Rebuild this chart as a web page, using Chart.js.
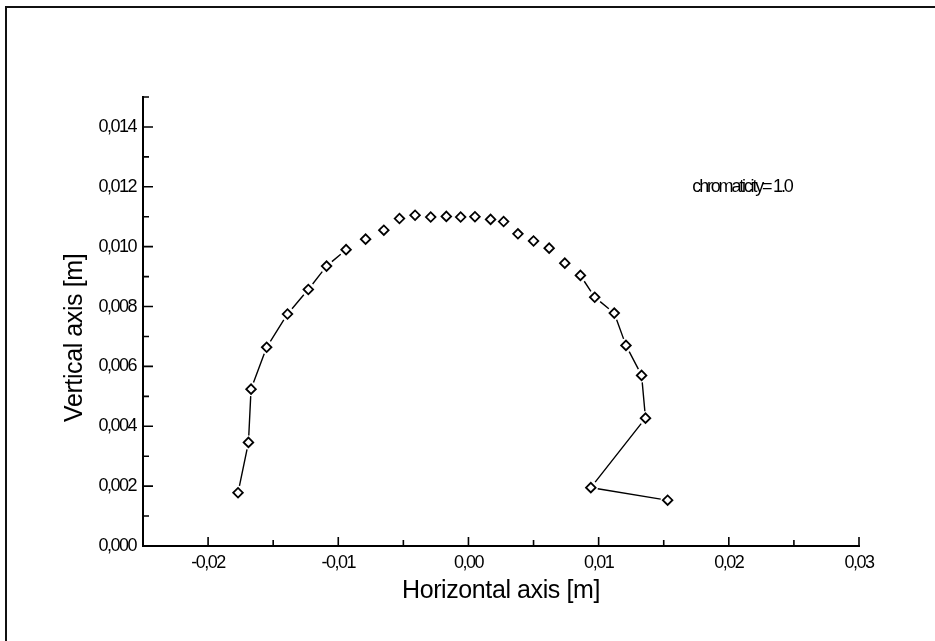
<!DOCTYPE html>
<html>
<head>
<meta charset="utf-8">
<script src="https://cdn.jsdelivr.net/npm/chart.js@4.4.1/dist/chart.umd.min.js"></script>
<style>
    html, body { margin: 0; padding: 0; background: #fff; }
    #wrap { position: relative; width: 935px; height: 641px; }
</style>
</head>
<body>
<div id="wrap"><canvas id="orbitChart"></canvas></div>
<script>
// beam centre positions, in metres
const horizontalPos = [
    -0.0177, -0.0169, -0.0167, -0.0155, -0.0139, -0.0123, -0.0109, -0.0094,
    -0.0079, -0.0065, -0.0053, -0.0041, -0.0029, -0.0017, -0.0006, 0.0005,
    0.0017, 0.0027, 0.0038, 0.0050, 0.0062, 0.0074, 0.0086, 0.0097,
    0.0112, 0.0121, 0.0133, 0.0136, 0.0094, 0.0153
];
const verticalPos = [
    0.00178, 0.00346, 0.00524, 0.00664, 0.00775, 0.00857, 0.00935, 0.00990,
    0.01025, 0.01055, 0.01094, 0.01105, 0.01099, 0.01101, 0.01099, 0.01100,
    0.01091, 0.01084, 0.01043, 0.01019, 0.00995, 0.00945, 0.00904, 0.00831,
    0.00778, 0.00670, 0.00570, 0.00427, 0.00195, 0.00153
];

const xTickValues = [-0.02, -0.01, 0.00, 0.01, 0.02, 0.03];
const xTickLabels = ['-0,02', '-0,01', '0,00', '0,01', '0,02', '0,03'];
const yTickValues = [0.000, 0.002, 0.004, 0.006, 0.008, 0.010, 0.012, 0.014];
const yTickLabels = ['0,000', '0,002', '0,004', '0,006', '0,008', '0,010', '0,012', '0,014'];

const noteText = 'chromaticity= 1.0';
const notePos = { x: 0.0172, y: 0.0120 };

Chart.defaults.color = '#000';
Chart.defaults.font.family = "'Liberation Sans', Arial, sans-serif";

function labelFor(values, labels) {
    return (v) => {
        const i = values.findIndex(t => Math.abs(t - v) < 1e-9);
        return i >= 0 ? labels[i] : '';
    };
}

// frame, gapped connecting line, inward ticks and the text note
const orbitDecor = {
    id: 'orbitDecor',
    beforeDraw(chart) {
        const ctx = chart.ctx;
        ctx.save();
        ctx.strokeStyle = '#111';
        ctx.lineWidth = 2;
        ctx.beginPath();
        ctx.moveTo(6, chart.height);
        ctx.lineTo(6, 7);
        ctx.lineTo(chart.width, 7);
        ctx.stroke();
        ctx.restore();
        // axis titles are drawn a little tight
        ctx.letterSpacing = '-0.4px';
    },
    beforeDatasetsDraw(chart) {
        const ctx = chart.ctx;
        const pts = chart.getDatasetMeta(0).data;
        const gap = 7;
        ctx.save();
        ctx.strokeStyle = '#000';
        ctx.lineWidth = 1.4;
        ctx.beginPath();
        for (let i = 1; i < pts.length; i++) {
            const a = pts[i - 1], b = pts[i];
            const dx = b.x - a.x, dy = b.y - a.y;
            const d = Math.hypot(dx, dy);
            if (d < 23) continue;
            const ux = dx / d, uy = dy / d;
            ctx.moveTo(a.x + ux * gap, a.y + uy * gap);
            ctx.lineTo(b.x - ux * gap, b.y - uy * gap);
        }
        ctx.stroke();

        // ticks point into the plot
        ctx.lineWidth = 1.6;
        ctx.beginPath();
        const xs = chart.scales.x, ys = chart.scales.y;
        xs.ticks.forEach(t => {
            const px = xs.getPixelForValue(t.value);
            const len = t.label ? 9 : 6;
            ctx.moveTo(px, xs.top);
            ctx.lineTo(px, xs.top - len);
        });
        ys.ticks.forEach(t => {
            const py = ys.getPixelForValue(t.value);
            const len = t.label ? 10 : 6;
            ctx.moveTo(ys.right, py);
            ctx.lineTo(ys.right + len, py);
        });
        ctx.stroke();
        ctx.restore();
    },
    afterDatasetsDraw(chart) {
        const ctx = chart.ctx;
        ctx.save();
        ctx.letterSpacing = '-2.2px';
        ctx.fillStyle = '#000';
        ctx.font = "18px 'Liberation Sans', Arial, sans-serif";
        ctx.textAlign = 'left';
        ctx.textBaseline = 'middle';
        ctx.fillText(noteText, chart.scales.x.getPixelForValue(notePos.x), chart.scales.y.getPixelForValue(notePos.y));
        ctx.restore();
        // tick labels (z: 1) follow with condensed spacing
        ctx.letterSpacing = '-1.5px';
    },
    afterDraw(chart) {
        chart.ctx.letterSpacing = '0px';
    }
};

const ctx = document.getElementById('orbitChart').getContext('2d');
new Chart(ctx, {
    type: 'scatter',
    data: {
        datasets: [{
            data: horizontalPos.map((x, i) => ({ x, y: verticalPos[i] })),
            showLine: false,
            pointStyle: 'rectRot',
            pointRadius: 4.8,
            pointBorderWidth: 1.8,
            pointBorderColor: '#000',
            pointBackgroundColor: '#fff'
        }]
    },
    options: {
        responsive: true,
        maintainAspectRatio: false,
        animation: false,
        events: [],
        layout: { padding: { top: 97, right: 76, left: 0, bottom: 0 } },
        plugins: {
            legend: { display: false },
            tooltip: { enabled: false }
        },
        scales: {
            x: {
                type: 'linear',
                min: -0.025,
                max: 0.03,
                afterFit: (scale) => { scale.height = 95; },
                grid: { display: false, drawTicks: false },
                border: { display: true, color: '#000', width: 2 },
                ticks: {
                    stepSize: 0.005,
                    maxTicksLimit: 100,
                    autoSkip: false,
                    maxRotation: 0,
                    padding: 6,
                    z: 1,
                    font: { size: 18 },
                    callback: labelFor(xTickValues, xTickLabels)
                },
                title: {
                    display: true,
                    text: 'Horizontal axis [m]',
                    font: { size: 25 },
                    padding: { top: 0, bottom: 35 }
                }
            },
            y: {
                type: 'linear',
                min: 0,
                max: 0.015,
                afterFit: (scale) => { scale.width = 143; },
                grid: { display: false, drawTicks: false },
                border: { display: true, color: '#000', width: 2 },
                ticks: {
                    stepSize: 0.001,
                    maxTicksLimit: 100,
                    autoSkip: false,
                    padding: 7,
                    z: 1,
                    font: { size: 18 },
                    callback: labelFor(yTickValues, yTickLabels)
                },
                title: {
                    display: true,
                    text: 'Vertical axis [m]     ',
                    font: { size: 25 },
                    padding: { top: 60, bottom: 0 }
                }
            }
        }
    },
    plugins: [orbitDecor]
});
</script>
</body>
</html>
